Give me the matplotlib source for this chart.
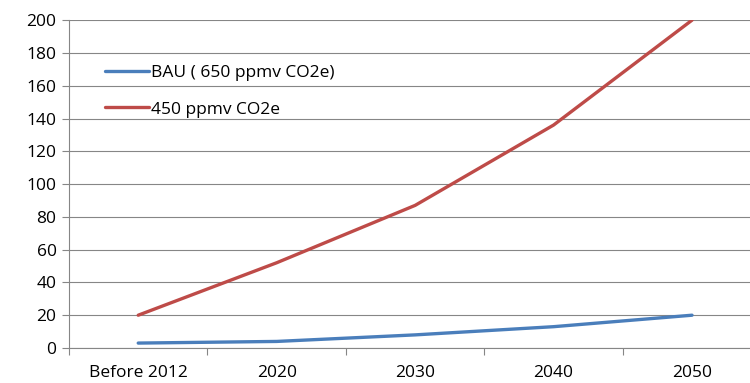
import numpy as np
import matplotlib.pyplot as plt

# emission scenarios
categories = ['Before 2012', '2020', '2030', '2040', '2050']
bau_650 = [3, 4, 8, 13, 20]
ppmv_450 = [20, 52, 87, 136, 200]

plt.rcParams['font.family'] = ['Open Sans', 'DejaVu Sans']

fig = plt.figure(figsize=(7.5, 3.83), dpi=100)
ax = fig.add_axes([0.092, 0.0914, 0.923, 0.856])

x = np.arange(len(categories))
ax.plot(x, bau_650, color='#4A7EBB', lw=2.4, solid_capstyle='round',
        label='BAU ( 650 ppmv CO2e)')
ax.plot(x, ppmv_450, color='#BE4B48', lw=2.4, solid_capstyle='round',
        label='450 ppmv CO2e')

ax.set_xlim(-0.5, len(categories) - 0.5)
ax.set_ylim(0, 200)
ax.set_yticks(range(0, 201, 20))
ax.grid(axis='y', color='#868686', lw=0.8)
ax.set_axisbelow(True)

ax.set_xticks(x)
ax.set_xticklabels(categories)
ax.set_xticks(np.arange(-0.5, len(categories)), minor=True)
ax.tick_params(axis='x', which='major', length=0, pad=12, labelsize=12.5)
ax.tick_params(axis='x', which='minor', length=5, color='#868686', width=0.8)
ax.tick_params(axis='y', length=5, color='#868686', width=0.8, labelsize=12.5, pad=4)

for s in ['top', 'right']:
    ax.spines[s].set_visible(False)
for s in ['left', 'bottom']:
    ax.spines[s].set_color('#868686')
    ax.spines[s].set_linewidth(0.8)

ax.legend(loc='upper left', bbox_to_anchor=(0.03, 0.91), frameon=False,
          fontsize=12.5, handlelength=2.5, handletextpad=0.15, labelspacing=1.15)

fig.savefig('out.png', dpi=100)
